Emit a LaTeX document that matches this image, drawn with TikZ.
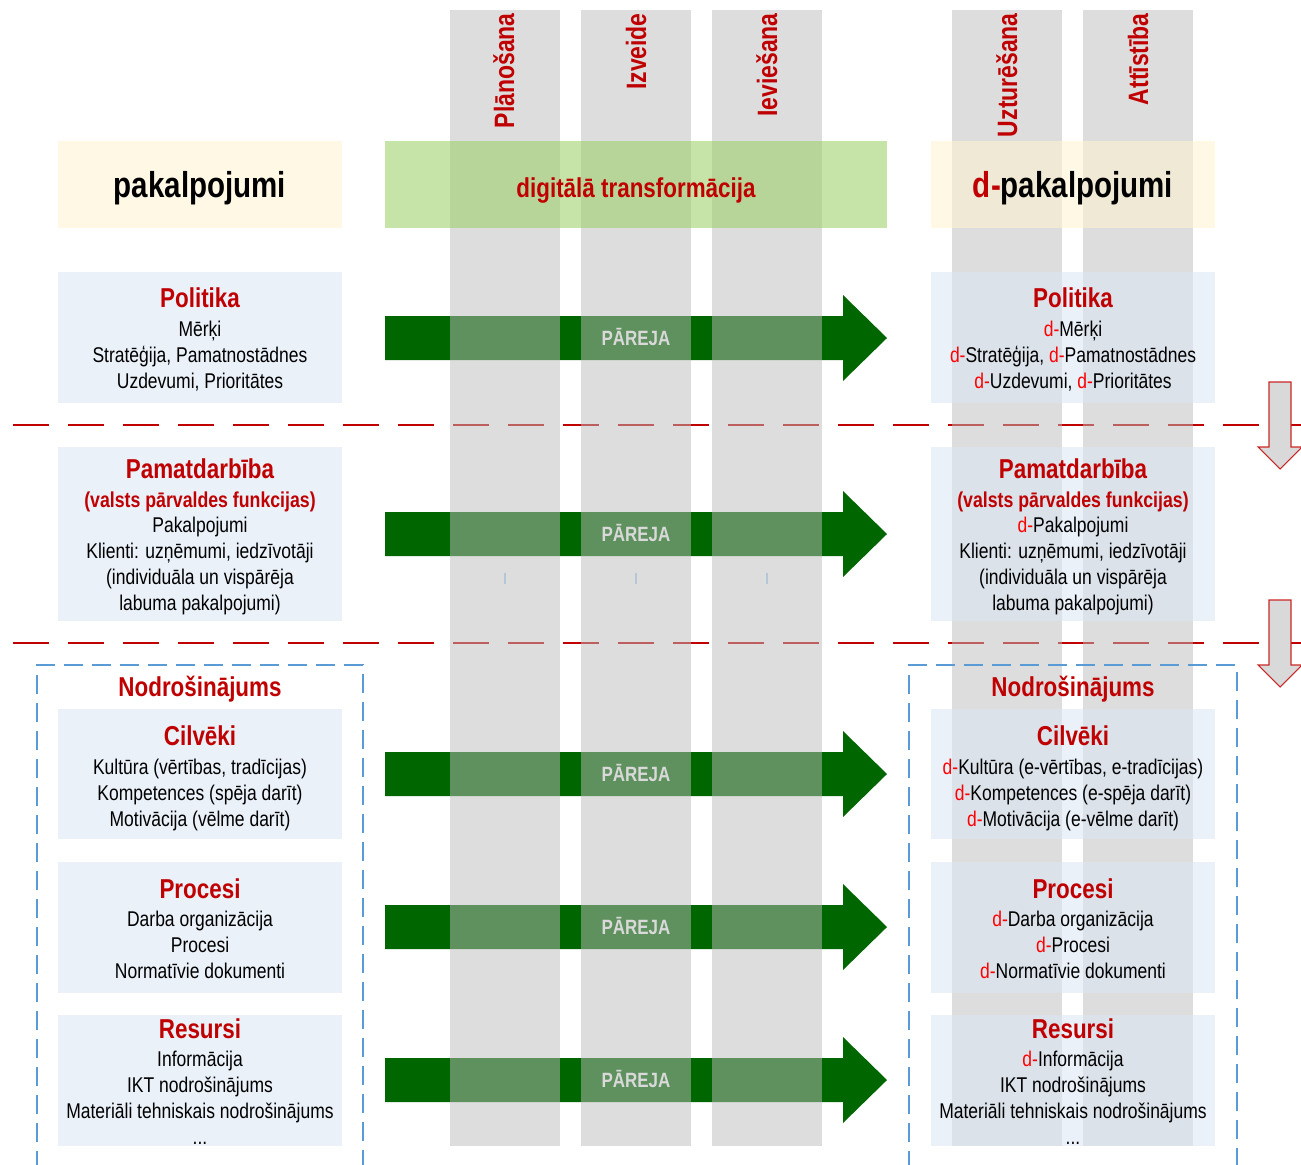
\documentclass[tikz,border=0pt]{standalone}
\usepackage{fontspec}
\setmainfont{Liberation Sans}[FakeStretch=0.82]
\definecolor{titlered}{HTML}{C00000}
\definecolor{dred}{HTML}{FF0000}
\definecolor{colgray}{HTML}{BCBCBC}
\definecolor{cream}{HTML}{FFF3D1}
\definecolor{bandgreen}{HTML}{9BD066}
\definecolor{boxblue}{HTML}{DAE6F4}
\definecolor{darkgreen}{HTML}{006600}
\definecolor{dashblue}{HTML}{5B9BD5}
\definecolor{tickblue}{HTML}{B4C6D8}
\newcommand{\dd}{\textcolor{dred}{d-}}
\tikzset{
  colband/.style={fill=colgray, fill opacity=0.51},
  hdrbox/.style={fill=cream, fill opacity=0.57},
  bandbox/.style={fill=bandgreen, fill opacity=0.57},
  infobox/.style={fill=boxblue, fill opacity=0.57},
  garrow/.style={fill=darkgreen},
  darrow/.style={fill=black!15, draw=titlered!85, line width=0.8pt},
  reddash/.style={draw=titlered, line width=1.5pt, dash pattern=on 27pt off 14.25pt},
  bluedash/.style={draw=dashblue, line width=1.5pt, dash pattern=on 14.25pt off 6.75pt},
  ttl/.style={text=titlered, font=\fontsize{20.5}{24}\selectfont\bfseries, anchor=base, inner sep=0},
  subttl/.style={text=titlered, font=\fontsize{16.2}{19}\selectfont\bfseries, anchor=base, inner sep=0},
  body/.style={text=black, font=\fontsize{16}{19}\selectfont, anchor=base, inner sep=0},
  hdrtxt/.style={text=black, font=\fontsize{27}{32}\selectfont\bfseries, anchor=base, inner sep=0},
  bandtxt/.style={text=titlered, font=\fontsize{20.5}{24}\selectfont\bfseries, anchor=base, inner sep=0},
  coltxt/.style={text=titlered, font=\fontsize{21}{25}\selectfont\bfseries, rotate=90, anchor=base east, inner sep=0},
  paretxt/.style={text=black!15, font=\fontsize{15.5}{18}\selectfont\bfseries, anchor=base, inner sep=0},
}
\begin{document}
\begin{tikzpicture}[x=0.75pt,y=-0.75pt]
\useasboundingbox (0,0) rectangle (1301,1164);
% green transition arrows (under the columns)
\foreach \c/\n in {338/a1,534/a2,774/a3,927/a4,1080/a5}{
  \fill[garrow] (385,\c-22) -- (843,\c-22) -- (843,\c-43) -- (887,\c)
     -- (843,\c+43) -- (843,\c+22) -- (385,\c+22) -- cycle;
}
% red dashed separators
\draw[reddash] (13,425) -- (1301,425);
\draw[reddash] (13,643) -- (1301,643);
% phase columns
\foreach \xa/\xb in {450/560,581/691,712/822,952/1062,1083/1193}{
  \fill[colband] (\xa,10) rectangle (\xb,1146);
}
% header boxes
\fill[hdrbox] (58,141) rectangle (342,228);
\fill[hdrbox] (931,141) rectangle (1215,228);
\fill[bandbox] (385,141) rectangle (887,228);
% info boxes
\foreach \ya/\yb in {272/403,447/621,709/839,862/993,1015/1146}{
  \fill[infobox] (58,\ya) rectangle (342,\yb);
  \fill[infobox] (931,\ya) rectangle (1215,\yb);
}
% small ticks
\foreach \x in {505,636,767}{
  \draw[tickblue, line width=1pt] (\x,573) -- (\x,584);
}
% Nodrosinajums dashed frames
\draw[bluedash] (37,1170) -- (37,665) -- (363,665) -- (363,1170);
\draw[bluedash] (909,1170) -- (909,665) -- (1237,665) -- (1237,1170);
% down arrows
\draw[darrow] (1269,382) -- (1291,382) -- (1291,447) -- (1302,447) -- (1280,469)
   -- (1258,447) -- (1269,447) -- cycle;
\draw[darrow] (1269,600) -- (1291,600) -- (1291,665) -- (1302,665) -- (1280,687)
   -- (1258,665) -- (1269,665) -- cycle;

% column labels
\node[coltxt] (c1) at (514,13) {Plānošana};
\node[coltxt] (c2) at (646,13) {Izveide};
\node[coltxt] (c3) at (777,13) {Ieviešana};
\node[coltxt] (c4) at (1017,13) {Uzturēšana};
\node[coltxt] (c5) at (1148,13) {Attīstība};

% headers
\node[hdrtxt] (h1) at (200,197) {pakalpojumi};
\node[bandtxt] (h2) at (636,197) {digitālā transformācija};
\node[hdrtxt] (h3) at (1073,197) {\textcolor{titlered}{d-}pakalpojumi};

% PAREJA labels
\foreach \c/\n in {338/p1,534/p2,774/p3,927/p4,1080/p5}{
  \node[paretxt] (\n) at (636,\c+7.5) {PĀREJA};
}

% ---- left column ----
\node[ttl] (lp0) at (200,307) {Politika};
\node[body] (lp1) at (200,336) {Mērķi};
\node[body] (lp2) at (200,362) {Stratēģija, Pamatnostādnes};
\node[body] (lp3) at (200,388) {Uzdevumi, Prioritātes};

\node[ttl] (lm0) at (200,478) {Pamatdarbība};
\node[subttl] (lm1) at (200,507) {(valsts pārvaldes funkcijas)};
\node[body] (lm2) at (200,532) {Pakalpojumi};
\node[body] (lm3) at (200,558) {Klienti: uzņēmumi, iedzīvotāji};
\node[body] (lm4) at (200,584) {(individuāla un vispārēja};
\node[body] (lm5) at (200,610) {labuma pakalpojumi)};

\node[ttl] (ln0) at (200,696) {Nodrošinājums};

\node[ttl] (lc0) at (200,745) {Cilvēki};
\node[body] (lc1) at (200,774) {Kultūra (vērtības, tradīcijas)};
\node[body] (lc2) at (200,800) {Kompetences (spēja darīt)};
\node[body] (lc3) at (200,826) {Motivācija (vēlme darīt)};

\node[ttl] (lr0) at (200,898) {Procesi};
\node[body] (lr1) at (200,926) {Darba organizācija};
\node[body] (lr2) at (200,952) {Procesi};
\node[body] (lr3) at (200,978) {Normatīvie dokumenti};

\node[ttl] (ls0) at (200,1038) {Resursi};
\node[body] (ls1) at (200,1066) {Informācija};
\node[body] (ls2) at (200,1092) {IKT nodrošinājums};
\node[body] (ls3) at (200,1118) {Materiāli tehniskais nodrošinājums};
\node[body] (ls4) at (200,1144) {...};

% ---- right column ----
\node[ttl] (rp0) at (1073,307) {Politika};
\node[body] (rp1) at (1073,336) {\dd Mērķi};
\node[body] (rp2) at (1073,362) {\dd Stratēģija, \dd Pamatnostādnes};
\node[body] (rp3) at (1073,388) {\dd Uzdevumi, \dd Prioritātes};

\node[ttl] (rm0) at (1073,478) {Pamatdarbība};
\node[subttl] (rm1) at (1073,507) {(valsts pārvaldes funkcijas)};
\node[body] (rm2) at (1073,532) {\dd Pakalpojumi};
\node[body] (rm3) at (1073,558) {Klienti: uzņēmumi, iedzīvotāji};
\node[body] (rm4) at (1073,584) {(individuāla un vispārēja};
\node[body] (rm5) at (1073,610) {labuma pakalpojumi)};

\node[ttl] (rn0) at (1073,696) {Nodrošinājums};

\node[ttl] (rc0) at (1073,745) {Cilvēki};
\node[body] (rc1) at (1073,774) {\dd Kultūra (e-vērtības, e-tradīcijas)};
\node[body] (rc2) at (1073,800) {\dd Kompetences (e-spēja darīt)};
\node[body] (rc3) at (1073,826) {\dd Motivācija (e-vēlme darīt)};

\node[ttl] (rr0) at (1073,898) {Procesi};
\node[body] (rr1) at (1073,926) {\dd Darba organizācija};
\node[body] (rr2) at (1073,952) {\dd Procesi};
\node[body] (rr3) at (1073,978) {\dd Normatīvie dokumenti};

\node[ttl] (rs0) at (1073,1038) {Resursi};
\node[body] (rs1) at (1073,1066) {\dd Informācija};
\node[body] (rs2) at (1073,1092) {IKT nodrošinājums};
\node[body] (rs3) at (1073,1118) {Materiāli tehniskais nodrošinājums};
\node[body] (rs4) at (1073,1144) {...};
\end{tikzpicture}
\end{document}
